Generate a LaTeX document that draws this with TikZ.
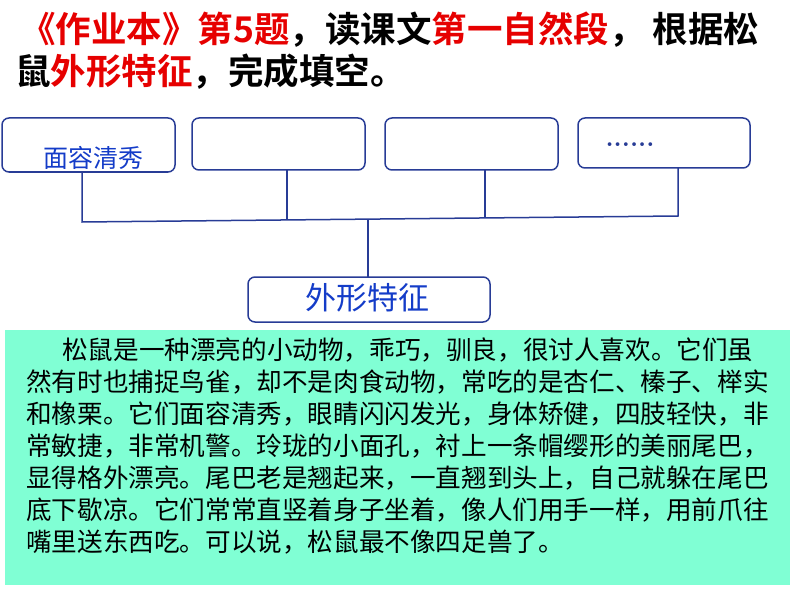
\documentclass[tikz,border=0pt]{standalone}
\usepackage{fontspec}
\newfontfamily\cjk{Noto Sans CJK SC}
\newfontfamily\cjkb{Noto Sans CJK SC Bold}
\definecolor{tred}{RGB}{230,0,0}
\definecolor{bblue}{RGB}{40,60,150}
\definecolor{tblue}{RGB}{20,60,200}
\definecolor{aqua}{RGB}{128,255,212}
\begin{document}
\begin{tikzpicture}[x=1pt,y=-1pt,
  fbox/.style={draw=bblue,line width=1.5pt,rounded corners=7pt},
  conn/.style={draw=bblue,line width=1.5pt}]
\useasboundingbox (0,0) rectangle (794,596);
\node[anchor=west,inner sep=0,font=\cjkb\fontsize{35.5}{40}\selectfont] (t1) at (20,30) {\textcolor{tred}{《作业本》第5题}，读课文\textcolor{tred}{第一自然段}， 根据松};
\node[anchor=west,inner sep=0,font=\cjkb\fontsize{35.5}{40}\selectfont] (t2) at (15,72) {鼠\textcolor{tred}{外形特征}，完成填空。};
\draw[fbox] (2,118) rectangle (175,172);
\draw[fbox] (192,118) rectangle (365,170);
\draw[fbox] (385,118) rectangle (558,170);
\draw[fbox] (578,118) rectangle (750,168);
\node[text=tblue,font=\cjk\fontsize{25}{28}\selectfont] (b1) at (93,158) {面容清秀};
\node[font=\bfseries\fontsize{26}{28}\selectfont,text=bblue] (b4) at (630,145) {......};
\coordinate (h1) at (82,222); \coordinate (h4) at (678,216);
\draw[conn] (82,172) -- (h1) -- (h4) -- (678,168);
\draw[conn] (287,170) -- (287,220);
\draw[conn] (485,170) -- (485,218);
\draw[conn] (368,219) -- (368,277);
\draw[fbox] (248,277) rectangle (490,322);
\node[text=tblue,font=\cjk\fontsize{31}{34}\selectfont] (b5) at (367,298) {外形特征};
\fill[aqua] (5,330) rectangle (790,585);
\node[anchor=north west,inner sep=0,align=left,font=\cjk\fontsize{25.6}{32}\selectfont] (p) at (26,338) {\hspace{36pt}松鼠是一种漂亮的小动物，乖巧，驯良，很讨人喜欢。它们虽\\
然有时也捕捉鸟雀，却不是肉食动物，常吃的是杏仁、榛子、榉实\\
和橡栗。它们面容清秀，眼睛闪闪发光，身体矫健，四肢轻快，非\\
常敏捷，非常机警。玲珑的小面孔，衬上一条帽缨形的美丽尾巴，\\
显得格外漂亮。尾巴老是翘起来，一直翘到头上，自己就躲在尾巴\\
底下歇凉。它们常常直竖着身子坐着，像人们用手一样，用前爪往\\
嘴里送东西吃。可以说，松鼠最不像四足兽了。};
\end{tikzpicture}
\end{document}
